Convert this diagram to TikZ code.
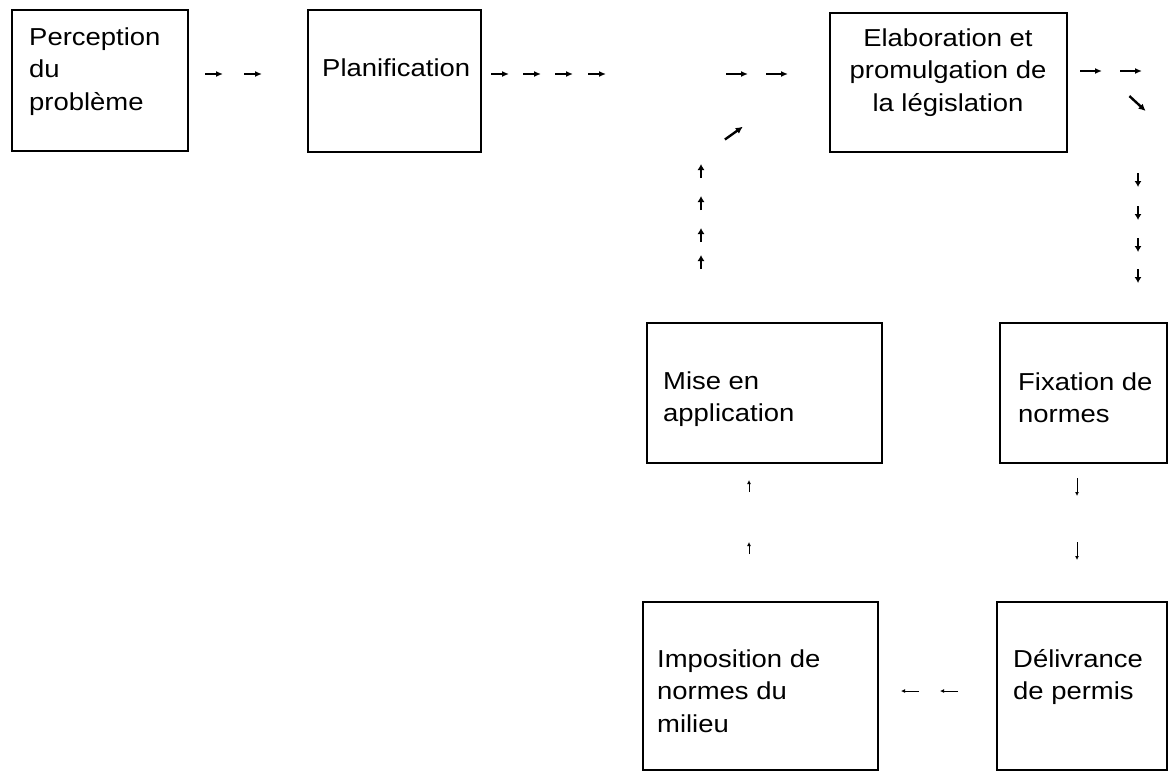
\documentclass[tikz,border=0pt]{standalone}
\usepackage{fontspec}
\setmainfont{Liberation Sans}[FakeStretch=1.12]
\usetikzlibrary{arrows.meta,decorations.markings}

% several lines of text whose baseline is that of the first line
\newcommand{\txtlines}[2]{\begin{tabular}[t]{@{}#1@{}}#2\end{tabular}}

\tikzset{
  box/.style={draw, line width=2.2pt, inner sep=0pt, outer sep=0pt, anchor=north west},
  lbl/.style={inner sep=0pt, anchor=base west, font=\fontsize{24.5}{32.5}\selectfont},
  clbl/.style={lbl, anchor=base},
  headbig/.style={line width=1.5pt, -{Latex[length=7pt,width=6pt]}},
  headfat/.style={line width=2.4pt, -{Latex[length=7pt,width=7pt]}},
  headmid/.style={line width=1.1pt, -{Latex[length=6pt,width=7pt]}},
  headsmall/.style={line width=0.8pt, -{Latex[length=4pt,width=4pt]}},
  % little arrows set along an invisible connector, at a distance from its start
  longat/.style={postaction={decorate,decoration={markings,
      mark=at position #1pt with {\draw[headbig] (-11,0) -- (11,0);}}}},
  shortat/.style={postaction={decorate,decoration={markings,
      mark=at position #1pt with {\draw[headbig] (-9,0) -- (9,0);}}}},
  fatat/.style={postaction={decorate,decoration={markings,
      mark=at position #1pt with {\draw[headfat] (-11,0) -- (11,0);}}}},
  stubat/.style={postaction={decorate,decoration={markings,
      mark=at position #1pt with {\draw[headmid] (-7,0) -- (7,0);}}}},
  fineat/.style={postaction={decorate,decoration={markings,
      mark=at position #1pt with {\draw[headsmall] (-9,0) -- (9,0);}}}},
  tinyat/.style={postaction={decorate,decoration={markings,
      mark=at position #1pt with {\draw[headsmall] (-6,0) -- (6,0);}}}},
}

\begin{document}
\begin{tikzpicture}[x=1pt,y=-1pt]
\path[fill=white,use as bounding box] (0,0) rectangle (1170,772);

% boxes
\node[box, minimum width=176pt, minimum height=141pt] (P) at (12,10) {};
\node[box, minimum width=173pt, minimum height=142pt] (L) at (308,10) {};
\node[box, minimum width=237pt, minimum height=139pt] (E) at (830,13) {};
\node[box, minimum width=235pt, minimum height=140pt] (M) at (647,323) {};
\node[box, minimum width=167pt, minimum height=140pt] (F) at (1000,323) {};
\node[box, minimum width=235pt, minimum height=168pt] (I) at (643,602) {};
\node[box, minimum width=170pt, minimum height=168pt] (D) at (997,602) {};

% labels
\node[lbl] (Pt) at (29,45) {\txtlines{l}{Perception\\du\\problème}};
\node[lbl] (Lt) at (322,76) {Planification};
\node[clbl] (Et) at (948,46) {\txtlines{c}{Elaboration et\\promulgation de\\la législation}};
\node[lbl] (Mt) at (663,389) {\txtlines{l}{Mise en\\application}};
\node[lbl] (Ft) at (1018,390) {\txtlines{l}{Fixation de\\normes}};
\node[lbl] (It) at (657,667) {\txtlines{l}{Imposition de\\normes du\\milieu}};
\node[lbl] (Dt) at (1013,667) {\txtlines{l}{Délivrance\\de permis}};

% bends of the chained connectors
\coordinate (rowA) at (0,74);
\coordinate (rowB) at (0,71);
\coordinate (eout) at (1150,71);
\coordinate (ediagA) at (1125,92);
\coordinate (ediagB) at (1150,115);
\coordinate (edown) at (1138,150);
\coordinate (mup) at (701,150);
\coordinate (mdiagA) at (720,143);
\coordinate (mdiagB) at (748,123);
\coordinate (fcol) at (1077,0);
\coordinate (icol) at (749,0);
\coordinate (drow) at (0,691);

% top row
\path[shortat/.list={26,65}] (P.east |- rowA) -- (L.west |- rowA);
\path[shortat/.list={19,51,83,116}, longat/.list={256,296}] (L.east |- rowA) -- (E.west |- rowA);

% from the legislation box down to the standards box
\path[longat/.list={24,64}] (E.east |- rowB) -- (eout);
\path[fatat=17] (ediagA) -- (ediagB);
\path[stubat/.list={30,63,95,126}] (edown) -- (F.north -| edown);

% from enforcement back up to the legislation row
\path[stubat/.list={61,88,120,152}] (M.north -| mup) -- (mup);
\path[fatat=17] (mdiagA) -- (mdiagB);

% lower loop
\path[fineat/.list={24,88}] (F.south -| fcol) -- (D.north -| fcol);
\path[fineat/.list={48,87}] (D.west |- drow) -- (I.east |- drow);
\path[tinyat/.list={54,116}] (I.north -| icol) -- (M.south -| icol);
\end{tikzpicture}
\end{document}
